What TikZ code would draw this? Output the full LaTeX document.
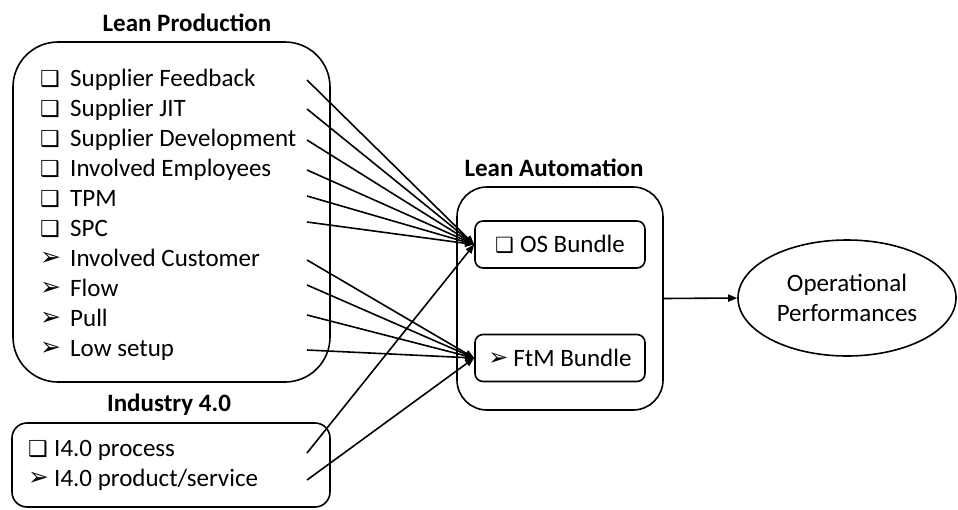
\documentclass[tikz,border=0pt]{standalone}
\usepackage{fontspec}
\setmainfont{Carlito}
\newfontfamily\symfont{DejaVu Sans}
\usetikzlibrary{shapes.geometric,arrows.meta}
\newcommand\bsq{\makebox[30pt][l]{\symfont\fontsize{22}{22}\selectfont ❑}}
\newcommand\barr{\makebox[30pt][l]{\raisebox{1pt}{\symfont\fontsize{25}{25}\selectfont ➢}}}
\newcommand\bsqi{\makebox[26pt][l]{\symfont\fontsize{22}{22}\selectfont ❑}}
\newcommand\barri{\makebox[26pt][l]{\raisebox{1pt}{\symfont\fontsize{25}{25}\selectfont ➢}}}
\newcommand\bsqs{\makebox[25pt][l]{\symfont\fontsize{21}{21}\selectfont ❑}}
\newcommand\barrs{\makebox[25pt][l]{\raisebox{1pt}{\symfont\fontsize{24}{24}\selectfont ➢}}}
\begin{document}
\begin{tikzpicture}[x=1pt,y=-1pt,
  every node/.style={font=\fontsize{25}{30}\selectfont},
  item/.style={anchor=base west, inner sep=0pt},
  title/.style={font=\fontsize{25}{30}\selectfont\bfseries, inner sep=0pt},
  bigbox/.style={draw, line width=1.6pt, inner sep=0pt},
  bundle/.style={draw, line width=1.6pt, rounded corners=8pt, minimum width=170pt, minimum height=47pt, inner sep=0pt},
  conn/.style={line width=1.6pt, -{Triangle[length=9pt,width=7pt]}}
]
\useasboundingbox (0,0) rectangle (958,509);

% Lean Production
\node[title] (tlp) at (187,23) {Lean Production};
\node[bigbox, rounded corners=45pt, minimum width=317pt, minimum height=340pt] (lp) at (171.5,212) {};
\node[item] (a1) at (40,86) {\bsq Supplier Feedback};
\node[item] (a2) at (40,116) {\bsq Supplier JIT};
\node[item] (a3) at (40,146) {\bsq Supplier Development};
\node[item] (a4) at (40,176) {\bsq Involved Employees};
\node[item] (a5) at (40,206) {\bsq TPM};
\node[item] (a6) at (40,236) {\bsq SPC};
\node[item] (a7) at (40,266) {\barr Involved Customer};
\node[item] (a8) at (40,296) {\barr Flow};
\node[item] (a9) at (40,326) {\barr Pull};
\node[item] (a10) at (40,356) {\barr Low setup};

% Industry 4.0
\node[title] (ti) at (169,405) {Industry 4.0};
\node[bigbox, rounded corners=15pt, minimum width=318pt, minimum height=84pt] (ind) at (171,465) {};
\node[item] (b1) at (28,456) {\bsqi I4.0 process};
\node[item] (b2) at (28,486) {\barri I4.0 product/service};

% Lean Automation
\node[title] (tla) at (554,168) {Lean Automation};
\node[bigbox, rounded corners=30pt, minimum width=206pt, minimum height=223pt] (la) at (560,298.5) {};
\node[bundle] (os) at (560,244.5) {\bsqs OS Bundle\hspace{14pt}};
\node[bundle] (ftm) at (560,358) {\barrs FtM Bundle\hspace{10pt}};

% Operational Performances
\node[draw, line width=1.6pt, ellipse, minimum width=218pt, minimum height=116pt, inner sep=0pt, align=center] (op) at (847,298) {Operational\\Performances};

% start points
\coordinate (s1) at (307,80);
\coordinate (s2) at (307,109);
\coordinate (s3) at (307,140);
\coordinate (s4) at (307,170);
\coordinate (s5) at (307,196);
\coordinate (s6) at (307,222);
\coordinate (s7) at (307,260);
\coordinate (s8) at (307,285);
\coordinate (s9) at (307,315);
\coordinate (s10) at (307,350);
\coordinate (r1) at (307,453);
\coordinate (r2) at (307,480);

\foreach \s in {s1,s2,s3,s4,s5,s6,r1} \draw[conn] (\s) -- (os.west);
\foreach \s in {s7,s8,s9,s10,r2} \draw[conn] (\s) -- (ftm.west);
\draw[conn] (la.east) -- (op.west);
\end{tikzpicture}
\end{document}
